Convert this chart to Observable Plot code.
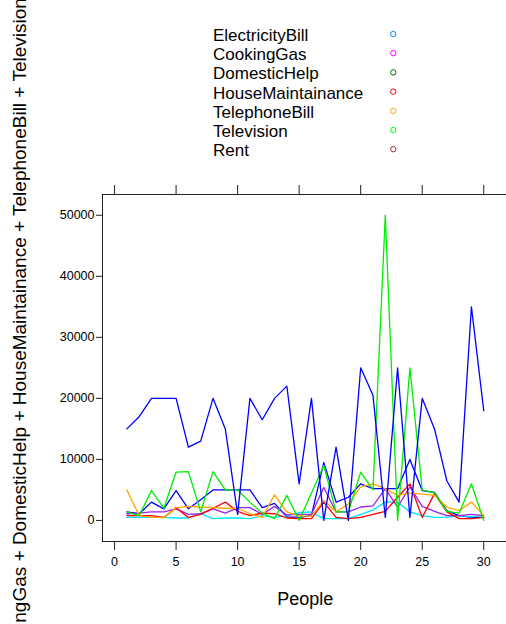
<!DOCTYPE html>
<html>
<head>
<meta charset="utf-8">
<script src="https://cdn.jsdelivr.net/npm/d3@7"></script>
<script src="https://cdn.jsdelivr.net/npm/@observablehq/plot@0.6"></script>
<style>
  html, body { margin: 0; padding: 0; background: #fff; overflow: hidden; }
  #wrap { position: relative; width: 506px; height: 624px; overflow: hidden;
          font-family: "Liberation Sans", Arial, sans-serif; }
  #legend { display: block; }
</style>
</head>
<body>
<div id="wrap"></div>
<script>
// Monthly household expenses for 30 people
const people = [1,2,3,4,5,6,7,8,9,10,11,12,13,14,15,16,17,18,19,20,21,22,23,24,25,26,27,28,29,30];

const ElectricityBill   = [1400,1100,3000,1900,4900,1900,3400,5000,5000,5000,5000,2100,2800,600,500,800,9500,3000,3800,6000,5200,5200,5200,10000,4900,4600,1600,800,500,500];
const CookingGas        = [500,500,500,500,400,400,1100,300,400,400,300,800,500,800,1300,1400,300,300,300,1000,1700,3000,3000,1400,800,500,500,800,600,800];
const DomesticHelp      = [1100,1200,1400,1400,1900,1000,1100,1900,1200,2100,2100,1000,2300,900,1000,1000,5400,1400,1400,2200,2400,5200,2200,5500,2300,1500,800,800,1000,800];
const HouseMaintainance = [800,800,800,500,2100,500,1000,2000,3000,1500,800,1200,1100,400,300,300,3000,500,300,500,1000,1500,3800,6000,500,4400,1400,300,300,500];
const TelephoneBill     = [5000,800,500,500,2100,2300,2200,2100,2000,2000,1100,500,4200,1400,700,700,3300,1400,2700,5500,6000,5200,4100,4500,4300,4100,2200,1600,3000,800];
const Television        = [1400,800,4900,2000,7900,8000,1400,8000,5000,5000,3000,1200,300,4100,0,4500,9000,1400,1400,7900,5000,50000,0,25000,5000,4500,1500,1200,6000,0];
const Rent              = [15000,17000,20000,20000,20000,12000,13000,20000,15000,1000,20000,16500,20000,22000,6000,20000,0,12000,0,25000,20500,500,25000,500,20000,15000,6500,3000,35000,18000];

const seriesNames  = ["ElectricityBill", "CookingGas", "DomesticHelp", "HouseMaintainance", "TelephoneBill", "Television", "Rent"];
const seriesValues = [ElectricityBill, CookingGas, DomesticHelp, HouseMaintainance, TelephoneBill, Television, Rent];
const lineColors   = ["#0000ff", "#00e5ff", "#a020f0", "#ff0000", "#ffa500", "#00ee00", "#0000ff"];
const keyColors    = ["#0080ff", "#ff00ff", "#006400", "#ff0000", "#ffa500", "#00ff00", "#a52a2a"];

const xTicks = [0, 5, 10, 15, 20, 25, 30];
const yTicks = [0, 10000, 20000, 30000, 40000, 50000];
const xLabel = "People";
const yLabel = seriesNames.join(" + ");

const rows = seriesNames.flatMap((name, i) =>
  people.map((p, j) => ({series: name, People: p, value: seriesValues[i][j]})));

const wrap = document.getElementById("wrap");

// Key above the panel: names on the left, open circles on the right
const keyHeight = 180;
const key = d3.create("svg").attr("id", "legend").attr("width", 506).attr("height", keyHeight);
const keyRows = key.selectAll("g").data(seriesNames).join("g")
  .attr("transform", (d, i) => `translate(0,${35 + 19.2 * i})`);
keyRows.append("text")
  .attr("x", 213).attr("dy", "0.35em")
  .attr("font-size", 17).attr("fill", "#000")
  .attr("font-family", "Liberation Sans, Arial, sans-serif")
  .text(d => d);
keyRows.append("circle")
  .attr("cx", 393.3).attr("cy", -1).attr("r", 2.7)
  .attr("fill", "none").attr("stroke-width", 1)
  .attr("stroke", (d, i) => keyColors[i]);
wrap.appendChild(key.node());

const axisColor = "#222";

// The panel runs slightly past the right edge of the page, so its right side is cut off
const chart = Plot.plot({
  width: 510,
  height: 444,
  marginLeft: 102,
  marginRight: 2.4,
  marginTop: 14,
  marginBottom: 83,
  style: {fontFamily: "Liberation Sans, Arial, sans-serif", fontSize: "12.5px", overflow: "visible", background: "transparent", color: "#000", maxWidth: "none"},
  x: {domain: [-0.98, 31.98]},
  y: {domain: [-3450, 53400]},
  marks: [
    ...seriesNames.map((name, i) =>
      Plot.line(rows.filter(d => d.series === name), {
        x: "People", y: "value", stroke: lineColors[i], strokeWidth: 1.3
      })),
    Plot.frame({stroke: axisColor, strokeWidth: 1}),
    Plot.axisX({anchor: "bottom", ticks: xTicks, tickSize: 9, tickPadding: 7, tickFormat: d => String(d), label: null, stroke: axisColor}),
    Plot.axisX({anchor: "top", ticks: xTicks, tickSize: 10, tickFormat: () => "", label: null, stroke: axisColor}),
    Plot.axisY({anchor: "left", ticks: yTicks, tickSize: 6, tickPadding: 2, tickFormat: d => String(d), label: null, stroke: axisColor}),
    Plot.text([xLabel], {text: d => d, frameAnchor: "bottom", dy: 63, fontSize: 18, fill: "#000"}),
    Plot.text([yLabel], {text: d => d, frameAnchor: "left", textAnchor: "middle", lineAnchor: "middle", dx: -83, dy: 0, rotate: -90, fontSize: 19, fill: "#000"})
  ]
});
wrap.appendChild(chart);
</script>
</body>
</html>
